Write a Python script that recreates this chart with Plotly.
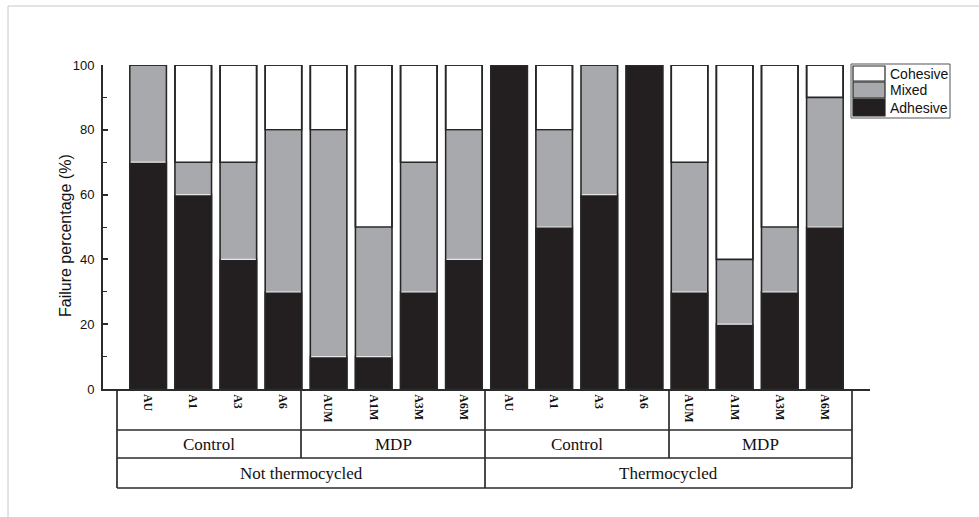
import plotly.graph_objects as go

# ---- data ----
labels = ["AU", "A1", "A3", "A6", "AUM", "A1M", "A3M", "A6M",
          "AU", "A1", "A3", "A6", "AUM", "A1M", "A3M", "A6M"]
adhesive = [70, 60, 40, 30, 10, 10, 30, 40, 100, 50, 60, 100, 30, 20, 30, 50]
mixed    = [30, 10, 30, 50, 70, 40, 40, 40, 0, 30, 40, 0, 40, 20, 20, 40]
cohesive = [0, 30, 30, 20, 20, 50, 30, 20, 0, 20, 0, 0, 30, 60, 50, 10]
treatments = ["Control", "MDP", "Control", "MDP"]
conditions = ["Not thermocycled", "Thermocycled"]
series_names = ["Cohesive", "Mixed", "Adhesive"]
colors = {"Adhesive": "#231f20", "Mixed": "#a7a9ac", "Cohesive": "#ffffff"}

xs = list(range(len(labels)))
base_mixed = adhesive
base_coh = [a + m for a, m in zip(adhesive, mixed)]
total = [a + m + c for a, m, c in zip(adhesive, mixed, cohesive)]

W = 0.81
DARK = "#262626"

fig = go.Figure()
fig.add_trace(go.Bar(x=xs, y=adhesive, base=[0]*len(xs), width=W, name="Adhesive",
                     marker=dict(color=colors["Adhesive"], line=dict(color=DARK, width=1.5))))
fig.add_trace(go.Bar(x=xs, y=mixed, base=base_mixed, width=W, name="Mixed",
                     marker=dict(color=colors["Mixed"], line=dict(color="#e6e6e6", width=1.2))))
fig.add_trace(go.Bar(x=xs, y=cohesive, base=base_coh, width=W, name="Cohesive",
                     marker=dict(color=colors["Cohesive"], line=dict(color=DARK, width=1.6))))
# outer outline of each column
fig.add_trace(go.Bar(x=xs, y=total, base=[0]*len(xs), width=W, showlegend=False,
                     hoverinfo="skip",
                     marker=dict(color="rgba(0,0,0,0)", line=dict(color=DARK, width=1.6))))

# ---- geometry helpers (pixel -> paper) ----
L, R, T, B = 103, 870, 65, 389
def px(p):
    return (p - L) / (R - L)
def py(p):
    return (B - p) / (B - T)

shapes = []
def line(x0, y0, x1, y1, color="#2b2b2b", w=1.7):
    shapes.append(dict(type="line", xref="paper", yref="paper",
                       x0=px(x0), y0=py(y0), x1=px(x1), y1=py(y1),
                       line=dict(color=color, width=w)))

# table below the axis
tl, tr = 117, 852
for yy in (430, 458, 488):
    line(tl, yy, tr, yy)
for xx in (tl, tr, 485):
    line(xx, B, xx, 488)
for xx in (301, 669):
    line(xx, B, xx, 458)

# figure frame (top & left)
line(8, 6, 1000, 6, color="#c8c8c8", w=1)
line(8, 6, 8, 530, color="#c8c8c8", w=1)

annotations = []
# rotated tick labels
for i, lab in enumerate(labels):
    annotations.append(dict(x=i, xref="x", y=py(392), yref="paper", text="<b>%s</b>" % lab,
                            textangle=90, showarrow=False, xanchor="center", yanchor="top",
                            font=dict(family="Liberation Serif", size=12, color="#111")))
# treatment labels
grp_edges = [117, 301, 485, 669, 852]
for k, t in enumerate(treatments):
    cx = (grp_edges[k] + grp_edges[k + 1]) / 2
    annotations.append(dict(x=px(cx), y=py(444), xref="paper", yref="paper", text=t,
                            showarrow=False, xanchor="center", yanchor="middle",
                            font=dict(family="Liberation Serif", size=17, color="#111")))
for k, c in enumerate(conditions):
    cx = (grp_edges[2 * k] + grp_edges[2 * k + 2]) / 2
    annotations.append(dict(x=px(cx), y=py(473), xref="paper", yref="paper", text=c,
                            showarrow=False, xanchor="center", yanchor="middle",
                            font=dict(family="Liberation Serif", size=17, color="#111")))

# y-axis title
annotations.append(dict(x=px(65), y=py(236), xref="paper", yref="paper",
                        text="Failure percentage (%)", textangle=-90, showarrow=False,
                        xanchor="center", yanchor="middle",
                        font=dict(family="Liberation Sans", size=16, color="#111")))

# custom legend
shapes.append(dict(type="rect", xref="paper", yref="paper",
                   x0=px(851), x1=px(950), y0=py(64), y1=py(118),
                   line=dict(color="#555", width=1), fillcolor="rgba(0,0,0,0)"))
sw = [(66, 81), (82, 98), (99, 116)]
for (y0, y1), nm in zip(sw, series_names):
    shapes.append(dict(type="rect", xref="paper", yref="paper",
                       x0=px(853), x1=px(885), y0=py(y0), y1=py(y1),
                       line=dict(color=DARK, width=1.2), fillcolor=colors[nm]))
    annotations.append(dict(x=px(888), y=py((y0 + y1) / 2), xref="paper", yref="paper",
                            text=nm, showarrow=False, xanchor="left", yanchor="middle",
                            font=dict(family="Liberation Sans", size=14, color="#111")))

fig.update_layout(
    width=979, height=517,
    margin=dict(l=L, r=979 - R, t=T, b=517 - B),
    paper_bgcolor="white", plot_bgcolor="white",
    barmode="overlay", showlegend=False,
    shapes=shapes, annotations=annotations,
    xaxis=dict(range=[-1, 16], showgrid=False, zeroline=False, showticklabels=False,
               ticks="", showline=True, linecolor="#2b2b2b", linewidth=1.8),
    yaxis=dict(range=[0, 100], showgrid=False, zeroline=False, showline=True,
               linecolor="#2b2b2b", linewidth=1.8, ticks="inside", ticklen=5, tickwidth=1.6,
               tickcolor="#2b2b2b", dtick=20, tick0=0, ticklabelstandoff=4,
               minor=dict(ticks="inside", ticklen=4, tickwidth=1.3, dtick=10, tickcolor="#2b2b2b"),
               tickfont=dict(family="Liberation Sans", size=13, color="#111")),
)

fig.write_html("out.html")
